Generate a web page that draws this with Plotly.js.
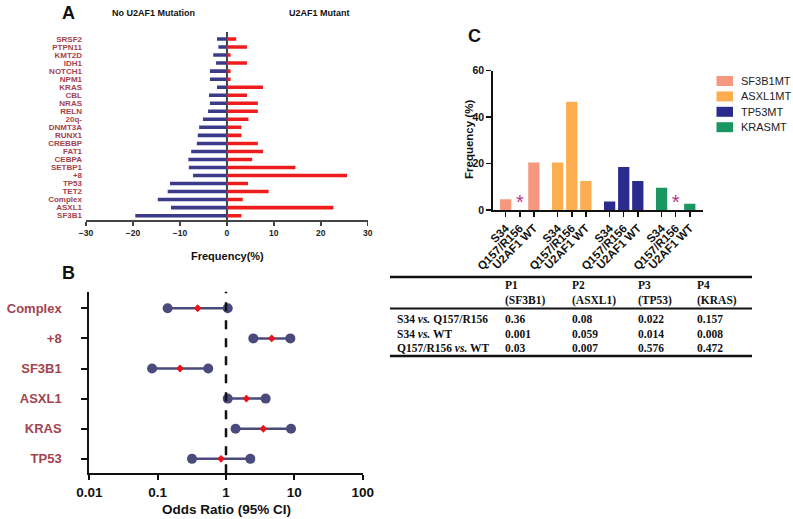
<!DOCTYPE html>
<html>
<head>
<meta charset="utf-8">
<script src="https://cdn.plot.ly/plotly-3.0.1.min.js"></script>
<style>
  body { margin: 0; background: #fff; }
  #chart { width: 793px; height: 519px; }
</style>
</head>
<body>
<div id="chart"></div>
<script>
// Panel A: mutation frequency by U2AF1 status (top to bottom)
let genesA = ["SRSF2", "PTPN11", "KMT2D", "IDH1", "NOTCH1", "NPM1", "KRAS", "CBL", "NRAS", "RELN",
  "20q-", "DNMT3A", "RUNX1", "CREBBP", "FAT1", "CEBPA", "SETBP1", "+8", "TP53", "TET2",
  "Complex", "ASXL1", "SF3B1"];
let noMutation = [-2.1, -1.8, -2.9, -2.3, -3.6, -3.6, -2.1, -3.8, -3.6, -4.0,
  -5.1, -5.9, -6.2, -6.4, -7.6, -8.2, -8.1, -7.2, -12.1, -12.6,
  -14.7, -11.9, -19.5];
let mutant = [2.0, 4.3, 0.8, 4.3, 0.8, 0.8, 7.7, 4.3, 6.6, 6.6,
  4.6, 3.1, 3.1, 6.6, 7.7, 5.4, 14.6, 25.6, 4.5, 8.9,
  3.4, 22.7, 3.1];

// Panel B: odds ratios with 95% CI
let genesB = ["Complex", "+8", "SF3B1", "ASXL1", "KRAS", "TP53"];
let oddsRatio = [0.385, 4.66, 0.212, 1.99, 3.52, 0.846];
let ciLow = [0.14, 2.51, 0.083, 1.06, 1.38, 0.318];
let ciHigh = [1.06, 8.74, 0.55, 3.80, 8.94, 2.27];

// Panel C: frequency by U2AF1 hotspot
let subgroups = ["S34", "Q157/R156", "U2AF1 WT"];
let cSeries = ["SF3B1MT", "ASXL1MT", "TP53MT", "KRASMT"];
let cValues = [
  [4.6, 0, 20.5],
  [20.5, 46.6, 12.5],
  [3.7, 18.5, 12.5],
  [9.6, 0, 2.7]
];
let cStars = [
  ["", "*", ""],
  ["", "", ""],
  ["", "", ""],
  ["", "*", ""]
];
let cColors = ["#f69880", "#fbad50", "#2b2b8e", "#1a9660"];

// Table of p values
let pHeaders = ["P1", "P2", "P3", "P4"];
let pGenes = ["(SF3B1)", "(ASXL1)", "(TP53)", "(KRAS)"];
let pRowLabels = ["S34 <i>vs.</i> Q157/R156", "S34 <i>vs.</i> WT", "Q157/R156 <i>vs.</i> WT"];
let pRows = [
  ["0.36", "0.08", "0.022", "0.157"],
  ["0.001", "0.059", "0.014", "0.008"],
  ["0.03", "0.007", "0.576", "0.472"]
];

const W = 793, H = 519;
const px = x => x / W;
const py = y => 1 - y / H;
const sans = "Liberation Sans, Arial, sans-serif";
const serif = "Liberation Serif, Times New Roman, serif";
const labelRed = "#a3434f";

let traces = [];

// A
traces.push({
  type: "bar", orientation: "h", x: noMutation, y: genesA,
  xaxis: "x", yaxis: "y", width: 0.44,
  marker: { color: "#3b3b8a" }, showlegend: false, hoverinfo: "x+y"
});
traces.push({
  type: "bar", orientation: "h", x: mutant, y: genesA,
  xaxis: "x", yaxis: "y", width: 0.44,
  marker: { color: "#ee1c1c" }, showlegend: false, hoverinfo: "x+y"
});

// B
let segX = [], segY = [];
genesB.forEach((g, i) => {
  segX.push(ciLow[i], ciHigh[i], null);
  segY.push(g, g, null);
});
traces.push({
  type: "scatter", mode: "lines+markers", x: segX, y: segY,
  xaxis: "x2", yaxis: "y2",
  line: { color: "#4a4a7c", width: 2.5 },
  marker: { color: "#4a4a7c", size: 10 },
  showlegend: false
});
traces.push({
  type: "scatter", mode: "markers", x: oddsRatio, y: genesB,
  xaxis: "x2", yaxis: "y2",
  marker: { color: "#e8141c", size: 6, symbol: "diamond" },
  showlegend: false
});

// C
const groupStep = 3.69;
let cTickVals = [], cTickText = [];
let starX = [], starText = [];
cSeries.forEach((name, g) => {
  let xs = subgroups.map((s, i) => g * groupStep + i);
  xs.forEach((x, i) => {
    cTickVals.push(x);
    cTickText.push(subgroups[i]);
    if (cStars[g][i]) { starX.push(x); starText.push(cStars[g][i]); }
  });
  traces.push({
    type: "bar", x: xs, y: cValues[g], name: name,
    xaxis: "x3", yaxis: "y3", width: 0.8,
    marker: { color: cColors[g] }, showlegend: false
  });
});
traces.push({
  type: "scatter", mode: "text", x: starX, y: starX.map(() => 2.6),
  text: starText, textposition: "middle center",
  textfont: { color: "#b8348c", size: 20, family: sans },
  xaxis: "x3", yaxis: "y3", showlegend: false, hoverinfo: "skip"
});

// annotations
let ann = [];
function note(text, x, y, size, opts) {
  ann.push(Object.assign({
    text: text, x: px(x), y: py(y), xref: "paper", yref: "paper",
    showarrow: false, xanchor: "center", yanchor: "middle",
    font: { family: sans, size: size, color: "#111" }
  }, opts || {}));
}
note("<b>A</b>", 68, 13, 18);
note("<b>B</b>", 68, 273, 18);
note("<b>C</b>", 474, 36, 18);
note("<b>No U2AF1 Mutation</b>", 153, 13, 9);
note("<b>U2AF1 Mutant</b>", 319, 13, 9);
note("<b>Frequency(%)</b>", 227, 256, 11);
note("<b>Odds Ratio (95% CI)</b>", 226, 509, 13.5);
note("<b>Frequency (%)</b>", 469, 140, 11.5, { textangle: -90 });

// legend for panel C, drawn as swatches and labels
let shapes = [];
cSeries.forEach((name, g) => {
  let yc = 81 + 15.4 * g;
  shapes.push({
    type: "rect", xref: "paper", yref: "paper",
    x0: px(716.5), x1: px(733), y0: py(yc + 5), y1: py(yc - 5),
    fillcolor: cColors[g], line: { width: 0 }
  });
  note(name, 739, yc, 11, { xanchor: "left", font: { family: sans, size: 11, color: "#222" } });
});

// table
const colX = [503, 570, 636, 695];
pHeaders.forEach((h, j) => {
  note("<b>" + h + "<br>" + pGenes[j] + "</b>", colX[j], 293, 11.5,
    { xanchor: "left", align: "left", font: { family: serif, size: 11.5, color: "#111" } });
});
const rowY = [318.5, 333.5, 348];
pRowLabels.forEach((lab, r) => {
  note("<b>" + lab + "</b>", 395, rowY[r], 11.5,
    { xanchor: "left", font: { family: serif, size: 11.5, color: "#111" } });
  pRows[r].forEach((v, j) => {
    note("<b>" + v + "</b>", colX[j], rowY[r], 11.5,
      { xanchor: "left", font: { family: serif, size: 11.5, color: "#111" } });
  });
});
[277, 308.5, 356].forEach((y, k) => shapes.push({
  type: "line", xref: "paper", yref: "paper",
  x0: px(390), x1: px(752), y0: py(y), y1: py(y),
  line: { color: "#111", width: k === 1 ? 2 : 2.5 }
}));
shapes.push({
  type: "line", xref: "x2", yref: "y2 domain",
  x0: 1, x1: 1, y0: 0, y1: 1,
  line: { color: "#111", width: 2.5, dash: "dash" }
});

let layout = {
  width: W, height: H,
  margin: { l: 0, r: 0, t: 0, b: 0 },
  paper_bgcolor: "#fff", plot_bgcolor: "rgba(0,0,0,0)",
  font: { family: sans, color: "#111" },
  barmode: "overlay",
  showlegend: false,
  xaxis: {
    domain: [px(86), px(367.7)], anchor: "y",
    range: [-30, 30], tickvals: [-30, -20, -10, 0, 10, 20, 30],
    showgrid: false, zeroline: true, zerolinecolor: "#444", zerolinewidth: 1.5,
    showline: true, linecolor: "#444", linewidth: 2,
    ticks: "outside", ticklen: 4, tickwidth: 1.5, tickcolor: "#444",
    tickfont: { size: 8.5, family: sans, color: "#222", weight: "bold" }
  },
  yaxis: {
    domain: [py(220), py(31.7)], anchor: "x", type: "category",
    range: [22.54, -0.91], tickmode: "array", tickvals: genesA,
    showgrid: false, showline: false, zeroline: false,
    ticks: "", ticklabelstandoff: 3,
    tickfont: { size: 8, family: sans, color: labelRed, weight: "bold" }
  },
  xaxis2: {
    domain: [px(89.3), px(362.7)], anchor: "y2", type: "log",
    range: [-2, 2], tickvals: [0.01, 0.1, 1, 10, 100], ticktext: ["0.01", "0.1", "1", "10", "100"],
    showgrid: false, zeroline: false,
    showline: true, linecolor: "#111", linewidth: 2,
    ticks: "outside", ticklen: 5, tickwidth: 2, tickcolor: "#111",
    tickfont: { size: 13.5, family: sans, color: "#111", weight: "bold" }
  },
  yaxis2: {
    domain: [py(473.3), py(291.7)], anchor: "x2", type: "category",
    range: [5.48, -0.55], showgrid: false, zeroline: false,
    showline: true, linecolor: "#111", linewidth: 2,
    ticks: "outside", ticklen: 6, tickwidth: 2, tickcolor: "#111",
    ticklabelstandoff: 17,
    tickfont: { size: 13, family: sans, color: labelRed, weight: "bold" }
  },
  xaxis3: {
    domain: [px(493.3), px(703.3)], anchor: "y3",
    range: [-0.88, 14.03], tickvals: cTickVals, ticktext: cTickText, tickangle: -45,
    showgrid: false, zeroline: false,
    showline: true, linecolor: "#111", linewidth: 2,
    ticks: "outside", ticklen: 5, tickwidth: 1.5, tickcolor: "#111",
    tickfont: { size: 11.5, family: sans, color: "#111", weight: "bold" }
  },
  yaxis3: {
    domain: [py(210), py(70.7)], anchor: "x3",
    range: [0, 60], tickvals: [0, 20, 40, 60],
    showgrid: false, zeroline: false,
    showline: true, linecolor: "#111", linewidth: 2,
    ticks: "outside", ticklen: 5, tickwidth: 1.5, tickcolor: "#111",
    tickfont: { size: 10.5, family: sans, color: "#111", weight: "bold" }
  },
  annotations: ann,
  shapes: shapes
};

Plotly.newPlot("chart", traces, layout, { displayModeBar: false, staticPlot: true });
</script>
</body>
</html>
